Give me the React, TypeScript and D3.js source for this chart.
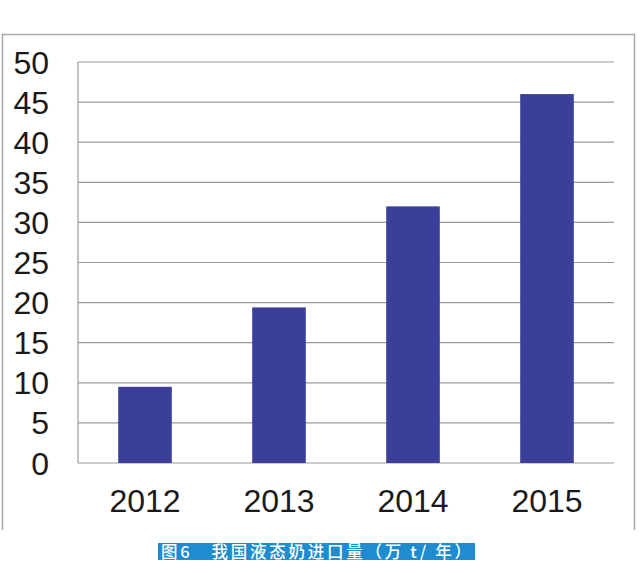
import * as d3 from "d3";

const years = ["2012", "2013", "2014", "2015"];
const imports = [9.5, 19.4, 32.0, 46.0];
const yTicks = [0, 5, 10, 15, 20, 25, 30, 35, 40, 45, 50];
const caption = "图6　我国液态奶进口量（万 t/ 年）";

function BarChart({
  width = 640,
  height = 573,
  marginTop = 62,
  marginRight = 26,
  marginBottom = 110,
  marginLeft = 78,
}: {
  width?: number;
  height?: number;
  marginTop?: number;
  marginRight?: number;
  marginBottom?: number;
  marginLeft?: number;
}) {
  const x = d3
    .scaleBand<string>()
    .domain(years)
    .range([marginLeft, width - marginRight])
    .paddingInner(0.6)
    .paddingOuter(0.3);
  const y = d3
    .scaleLinear()
    .domain([0, 50])
    .range([height - marginBottom, marginTop]);
  const font = "'Liberation Sans', Arial, sans-serif";
  return (
    <svg
      width={width}
      height={height}
      style={{ position: "absolute", left: 0, top: 0, background: "#fff" }}
    >
      {/* outer frame, open at the bottom */}
      <path
        d={`M2.5,530 V34.5 H634.5 V530`}
        fill="none"
        stroke="#a8a8a8"
        strokeWidth={1.5}
      />
      <g stroke="#9a9a9a" strokeWidth={1.2}>
        {yTicks.map(t => (
          <line
            key={t}
            x1={marginLeft}
            x2={width - marginRight}
            y1={y(t)}
            y2={y(t)}
          />
        ))}
        <line
          x1={marginLeft}
          x2={marginLeft}
          y1={y(0)}
          y2={y(50)}
        />
      </g>
      <g fill="#3b3f97">
        {years.map((d, i) => (
          <rect
            key={d}
            x={x(d)}
            y={y(imports[i])}
            width={x.bandwidth()}
            height={y(0) - y(imports[i])}
          />
        ))}
      </g>
      <g
        fontFamily={font}
        fontSize={32}
        fill="#1a1a1a"
        textAnchor="end"
      >
        {yTicks.map(t => (
          <text key={t} x={49} y={y(t)} dy="0.36em">
            {t}
          </text>
        ))}
      </g>
      <g fontFamily={font} fontSize={32} fill="#1a1a1a" textAnchor="middle">
        {years.map(d => (
          <text key={d} x={(x(d) ?? 0) + x.bandwidth() / 2} y={512}>
            {d}
          </text>
        ))}
      </g>
      <rect x={158} y={543} width={317} height={17} fill="#1e8dcf" />
      <text
        x={161}
        y={558}
        fill="#fff"
        fontSize={16.5}
        fontWeight={500}
        fontFamily="'Noto Sans CJK SC', sans-serif"
        textLength={310}
        lengthAdjust="spacing"
      >
        {caption}
      </text>
    </svg>
  );
}

export default function App() {
  return (
    <div>
      <BarChart />
    </div>
  );
}
